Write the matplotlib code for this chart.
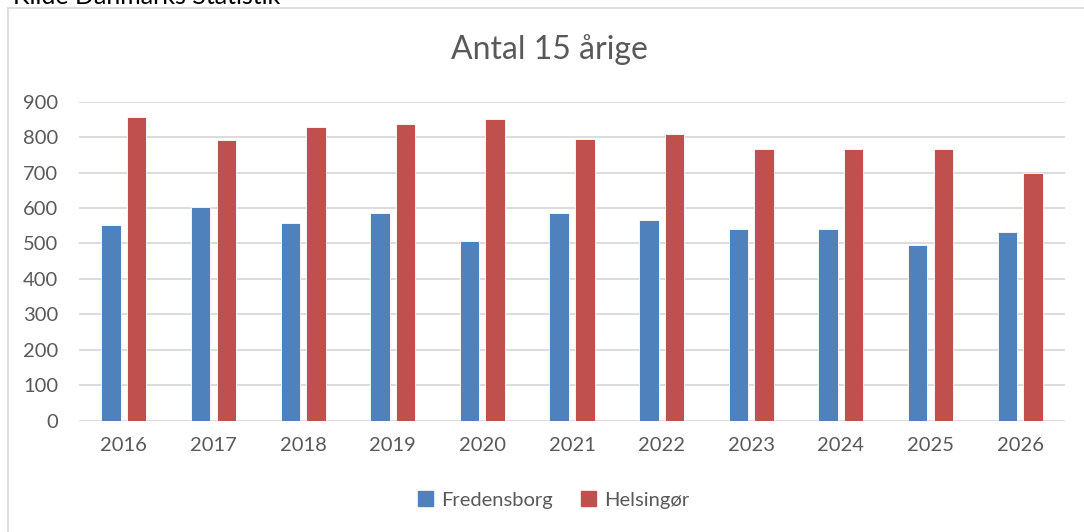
import matplotlib
matplotlib.use("Agg")
import matplotlib.pyplot as plt
from matplotlib.lines import Line2D
from matplotlib.patches import Patch
import numpy as np

years = ["2016", "2017", "2018", "2019", "2020", "2021", "2022", "2023", "2024", "2025", "2026"]
fredensborg = [553, 603, 559, 586, 508, 587, 567, 540, 542, 497, 533]
helsingor = [858, 791, 828, 837, 852, 796, 810, 767, 767, 767, 700]
series_names = ["Fredensborg", "Helsingør"]
title = "Antal 15 årige"
source = "Kilde Danmarks Statistik"

BLUE = "#4f81bd"
RED = "#c0504d"
GRID = "#d9d9d9"
TXT = "#595959"
FONT = ["Lato", "DejaVu Sans"]

plt.rcParams["font.family"] = FONT

W, H = 1084, 532
fig = plt.figure(figsize=(W / 100, H / 100), dpi=100)

def fx(px):
    return px / W

def fy(py):
    return 1 - py / H

ax = fig.add_axes([fx(79), fy(420.7), fx(1065) - fx(79), fy(101.7) - fy(420.7)])

x = np.arange(len(years))
bw = 0.218
off = 0.143
ax.bar(x - off, fredensborg, width=bw, color=BLUE, edgecolor="white", linewidth=0.6, zorder=3)
ax.bar(x + off, helsingor, width=bw, color=RED, edgecolor="white", linewidth=0.6, zorder=3)

ax.set_xlim(-0.5, len(years) - 0.5)
ax.set_ylim(0, 900)
ax.set_yticks(np.arange(0, 901, 100))
ax.set_xticks(x)
ax.set_xticklabels(years)
ax.grid(axis="y", color=GRID, linewidth=1.3, zorder=0)
for s in ax.spines.values():
    s.set_visible(False)
ax.tick_params(axis="both", length=0, labelsize=14.5, colors=TXT)
ax.tick_params(axis="y", pad=15)
ax.tick_params(axis="x", pad=12)

# title
fig.text(fx(549), fy(50), title, ha="center", va="center", fontsize=23, color=TXT)

# chart frame (left and top edges visible)
fig.add_artist(Line2D([fx(8), fx(8)], [fy(8), fy(540)], color=GRID, linewidth=1.2))
fig.add_artist(Line2D([fx(8), fx(1090)], [fy(8), fy(8)], color=GRID, linewidth=1.2))

# source text (partly cut at the top, as in the original)
fig.text(fx(13), fy(4), source, ha="left", va="baseline", fontsize=18, color="black")

handles = [Patch(facecolor=BLUE, edgecolor=BLUE), Patch(facecolor=RED, edgecolor=RED)]
fig.legend(handles, series_names, loc="center", bbox_to_anchor=(fx(554), fy(500)),
           ncol=2, frameon=False, fontsize=14.5, labelcolor=TXT,
           handlelength=0.75, handleheight=0.75, handletextpad=0.4, columnspacing=1.4)

fig.savefig("out.png", dpi=100, facecolor="white")
